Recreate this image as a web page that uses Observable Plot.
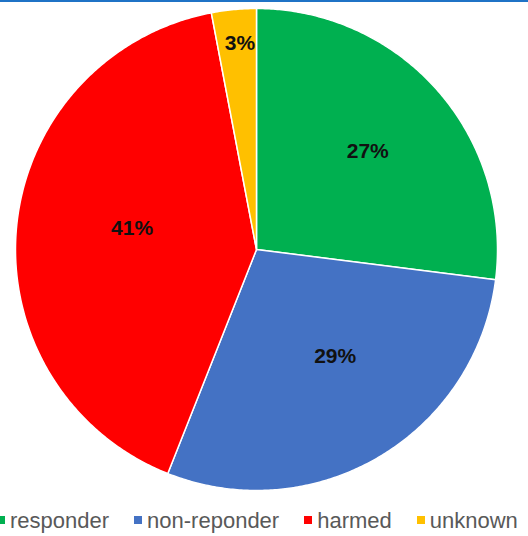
<!DOCTYPE html>
<html>
<head>
<meta charset="utf-8">
<script src="https://cdn.jsdelivr.net/npm/d3@7"></script>
<script src="https://cdn.jsdelivr.net/npm/@observablehq/plot@0.6"></script>
<style>
  html, body { margin: 0; padding: 0; background: #fff; overflow: hidden; }
  #wrap { position: relative; width: 528px; height: 536px; }
  #topline { position: absolute; left: 0; top: 0; width: 528px; height: 2px; background: #1f73c6; z-index: 2; }
  #legend { position: absolute; left: -3px; top: 506px; white-space: nowrap; font-family: "Liberation Sans", Arial, sans-serif; font-size: 22px; color: #595959; line-height: 30px; }
  #legend span.item { display: inline-block; margin-right: 25px; }
  #legend span.sw { display: inline-block; width: 8px; height: 8px; margin-right: 5px; vertical-align: 4px; }
</style>
</head>
<body>
<div id="wrap">
  <div id="topline"></div>
  <div id="chart"></div>
  <div id="legend"></div>
</div>
<script>
const categories = ["responder", "non-reponder", "harmed", "unknown"];
const values = [27, 29, 41, 3];
const colors = ["#00B050", "#4472C4", "#FF0000", "#FFC000"];

const total = d3.sum(values);
// build sector outlines in unit coordinates (angle clockwise from north)
const sectors = [];
const labels = [];
let acc = 0;
values.forEach((v, i) => {
  const a0 = acc / total * 2 * Math.PI;
  const a1 = (acc + v) / total * 2 * Math.PI;
  acc += v;
  const steps = Math.max(4, Math.ceil((a1 - a0) / (Math.PI / 360)));
  sectors.push({cat: categories[i], x: 0, y: 0});
  for (let k = 0; k <= steps; k++) {
    const a = a0 + (a1 - a0) * k / steps;
    sectors.push({cat: categories[i], x: Math.sin(a), y: Math.cos(a)});
  }
  sectors.push({cat: categories[i], x: 0, y: 0});
  const mid = (a0 + a1) / 2;
  const small = v / total < 0.05;
  const rr = small ? 0.86 : 0.56;
  labels.push({cat: categories[i], small, text: `${v}%`, x: rr * Math.sin(mid), y: rr * Math.cos(mid)});
});

const labelFont = {fill: "#111", fontSize: 21, fontWeight: "bold", fontFamily: "Liberation Sans, Arial, sans-serif"};

const chart = Plot.plot({
  width: 528,
  height: 500,
  marginLeft: 15,
  marginRight: 31,
  marginTop: 8,
  marginBottom: 10,
  x: {domain: [-1, 1], axis: null},
  y: {domain: [-1, 1], axis: null},
  color: {domain: categories, range: colors},
  style: {background: "transparent"},
  marks: [
    Plot.line(sectors, {x: "x", y: "y", z: "cat", fill: "cat", stroke: "white", strokeWidth: 1.5, strokeLinejoin: "round", curve: "linear"}),
    Plot.text(labels.filter(d => !d.small), {x: "x", y: "y", text: "text", dx: 10, dy: -9, ...labelFont}),
    Plot.text(labels.filter(d => d.small), {x: "x", y: "y", text: "text", dx: 3, ...labelFont})
  ]
});
document.getElementById("chart").appendChild(chart);

const legend = document.getElementById("legend");
categories.forEach((c, i) => {
  const item = document.createElement("span");
  item.className = "item";
  const sw = document.createElement("span");
  sw.className = "sw";
  sw.style.background = colors[i];
  item.appendChild(sw);
  item.appendChild(document.createTextNode(c));
  legend.appendChild(item);
});
</script>
</body>
</html>
